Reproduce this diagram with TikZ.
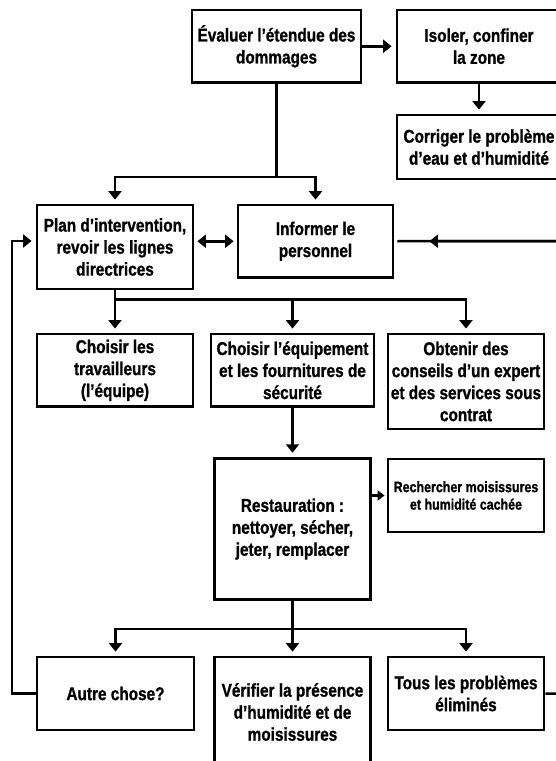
\documentclass[tikz,border=0pt]{standalone}
\usepackage{fontspec}
\newfontfamily\diagfont{Liberation Sans}[FakeStretch=0.83,FakeBold=1]
\usetikzlibrary{arrows.meta}
\tikzset{
  box/.style={draw,line width=2.8pt,inner sep=0pt,align=center,
    font=\diagfont\bfseries\fontsize{18.5}{22}\selectfont},
  conn/.style={line width=2.5pt},
  arr/.style={conn,-{Triangle[width=13pt,length=8.5pt]},shorten >=4pt},
  smallarr/.style={conn,-{Triangle[width=10pt,length=7pt]},shorten >=2pt}
}
\begin{document}
\begin{tikzpicture}[x=1pt,y=-1pt]
\useasboundingbox (0,0) rectangle (556,761);
\clip (0,0) rectangle (556,761);
\node[box,minimum width=169pt,minimum height=72.5pt] (eval) at (276.5,46.25) {Évaluer l’étendue des\\dommages};
\node[box,minimum width=164pt,minimum height=72.5pt] (iso) at (479,46.25) {Isoler, confiner\\la zone};
\node[box,minimum width=164pt,minimum height=64pt] (corr) at (479,147) {Corriger le problème\\d’eau et d’humidité};
\node[box,minimum width=156pt,minimum height=84pt] (plan) at (115,247) {Plan d’intervention,\\revoir les lignes\\directrices};
\node[box,minimum width=155pt,minimum height=72.5pt] (inf) at (315.5,241.25) {Informer le\\personnel};
\node[box,minimum width=156pt,minimum height=72.7pt] (trav) at (115,370.3) {Choisir les\\travailleurs\\(l’équipe)};
\node[box,minimum width=163pt,minimum height=72.7pt] (equip) at (292.5,370.3) {Choisir l’équipement\\et les fournitures de\\sécurité};
\node[box,minimum width=156pt,minimum height=95pt] (obt) at (466,381.5) {Obtenir des\\conseils d’un expert\\et des services sous\\contrat};
\node[box,minimum width=156pt,minimum height=141.7pt] (rest) at (292.5,529) {Restauration :\\nettoyer, sécher,\\jeter, remplacer};
\node[box,minimum width=156pt,minimum height=73pt,font=\diagfont\bfseries\fontsize{15}{17.5}\selectfont] (rech) at (466,495.5) {Rechercher moisissures\\et humidité cachée};
\node[box,minimum width=157pt,minimum height=73pt] (autre) at (115.5,693.5) {Autre chose?};
\node[box,minimum width=156pt,minimum height=110pt] (verif) at (292.5,712) {Vérifier la présence\\d’humidité et de\\moisissures};
\node[box,minimum width=156pt,minimum height=73pt] (tous) at (466,693.5) {Tous les problèmes\\éliminés};
\coordinate (b1) at (276.5,177);
\coordinate (b2) at (115,299.5);
\coordinate (b3) at (292.5,629);
\coordinate (lx) at (12,241);
\coordinate (rx) at (575,241);
\draw[arr] (eval) -- (iso);
\draw[arr] (iso) -- (corr);
\draw[conn] (eval.south) -- (b1);
\draw[arr] (b1) -| (plan.north);
\draw[arr] (b1) -| (inf.north);
\draw[conn,{Triangle[width=13pt,length=8.5pt]}-{Triangle[width=13pt,length=8.5pt]},shorten <=3pt,shorten >=3pt] (plan.east |- inf.west) -- (inf.west);
\draw[conn,shorten >=3pt] (tous.east) -| (rx) -- (inf.east);
\draw[conn,-{Triangle[width=13pt,length=8.5pt]}] (rx) -- ([xshift=35pt]inf.east);
\draw[arr] (autre.west) -| (lx) -- ([yshift=6pt]plan.west);
\draw[conn] (plan.south) -- (b2);
\draw[arr] (b2) -- (trav.north);
\draw[arr] (b2) -| (equip.north);
\draw[arr] (b2) -| (obt.north);
\draw[arr] (equip) -- (rest);
\draw[smallarr] (rest.east |- rech.west) -- (rech.west);
\draw[conn] (rest.south) -- (b3);
\draw[arr] (b3) -| (autre.north);
\draw[arr] (b3) -- (verif.north);
\draw[arr] (b3) -| (tous.north);
\end{tikzpicture}
\end{document}
